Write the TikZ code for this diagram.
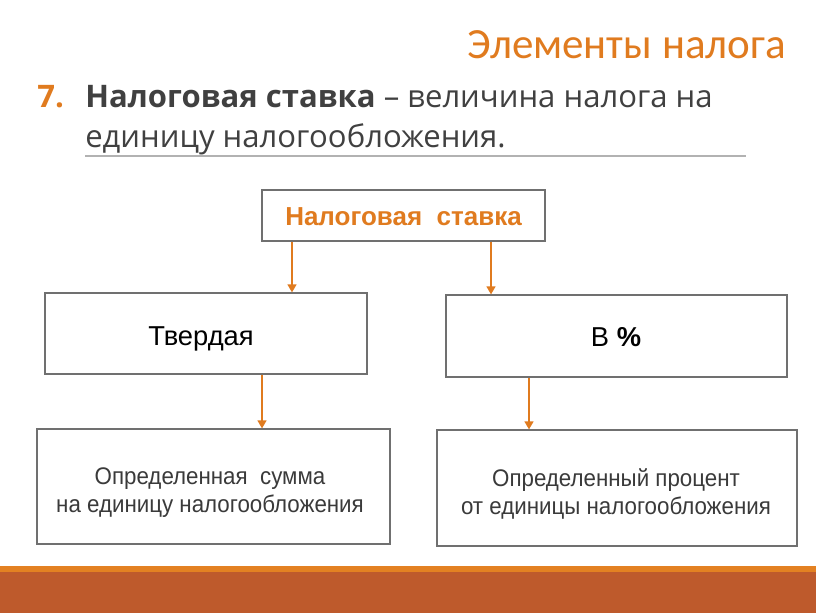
\documentclass[tikz,border=0pt]{standalone}
\usepackage{fontspec}
\setmainfont{Carlito}
\newfontfamily\headf{Open Sans}
\newfontfamily\arialf{Liberation Sans}
\newfontfamily\arialn[FakeStretch=0.93]{Liberation Sans}
\usetikzlibrary{arrows.meta}
\definecolor{orng}{HTML}{E07B1F}
\definecolor{rust}{HTML}{BE5A2C}
\definecolor{stripe}{HTML}{E38122}
\definecolor{dgray}{HTML}{404040}
\definecolor{tgray}{HTML}{3A3A3A}
\definecolor{boxline}{HTML}{707070}
\tikzset{
  box/.style={draw=boxline, line width=0.8pt, fill=white, inner sep=0pt},
  boxtext/.style={font=\arialf\fontsize{20.5}{24}\selectfont, align=center, text=black, inner sep=0pt, anchor=base},
  lowtext/.style={font=\arialn\fontsize{18}{21}\selectfont, align=center, text=tgray, inner sep=0pt},
  arr/.style={draw=orng, line width=1.6pt, -{Triangle[width=6.5pt,length=6pt]}},
}
\begin{document}
\begin{tikzpicture}[x=0.75pt,y=-0.75pt]
\useasboundingbox (0,0) rectangle (816,613);
% bottom bar
\fill[stripe] (0,566) rectangle (816,572);
\fill[rust] (0,572) rectangle (816,613);
% title
\node[anchor=base east, inner sep=0pt, text=orng, font=\fontsize{32.3}{36}\selectfont] (title) at (786,59) {Элементы налога};
% heading
\node[anchor=base west, inner sep=0pt, text=orng, font=\headf\bfseries\fontsize{23.3}{28}\selectfont] (num) at (37,108) {7.};
\node[anchor=base west, inner sep=0pt, text=dgray, font=\headf\fontsize{23.3}{28}\selectfont] (line1) at (85,108) {\textbf{Налоговая ставка} – величина налога на};
\node[anchor=base west, inner sep=0pt, text=dgray, font=\headf\fontsize{23.3}{28}\selectfont] (line2) at (85,147) {единицу налогообложения.};
\coordinate (ul) at (85,156);
\coordinate (ur) at (746,156);
\draw[draw=black!30, line width=0.8pt] (ul) -- (ur);
% boxes
\node[box, minimum width=283*0.75pt, minimum height=51*0.75pt] (top) at (403.5,215.5) {};
\node[boxtext, text=orng, font=\arialf\bfseries\fontsize{19.5}{23}\selectfont] (topt) at (403.5,225) {Налоговая\ \ ставка};
\node[box, minimum width=322*0.75pt, minimum height=81*0.75pt] (tv) at (206,333.5) {};
\node[boxtext] (tvt) at (201,345) {Твердая};
\node[box, minimum width=341*0.75pt, minimum height=82*0.75pt] (pc) at (616.5,336) {};
\node[boxtext] (pct) at (616,346) {В \textbf{\%}};
\node[box, minimum width=353*0.75pt, minimum height=115*0.75pt] (bl) at (213.5,486.5) {};
\node[lowtext] (blt) at (210,493) {Определенная\ \ сумма\\на единицу налогообложения};
\node[box, minimum width=360*0.75pt, minimum height=116*0.75pt] (br) at (617,488) {};
\node[lowtext] (brt) at (616,494) {Определенный процент\\от единицы налогообложения};
% arrows
\draw[arr] (top.south -| 292,0) -- (tv.north -| 292,0);
\draw[arr] (top.south -| 491,0) -- (pc.north -| 491,0);
\draw[arr] (tv.south -| 262,0) -- (bl.north -| 262,0);
\draw[arr] (pc.south -| 529,0) -- (br.north -| 529,0);
\end{tikzpicture}
\end{document}
